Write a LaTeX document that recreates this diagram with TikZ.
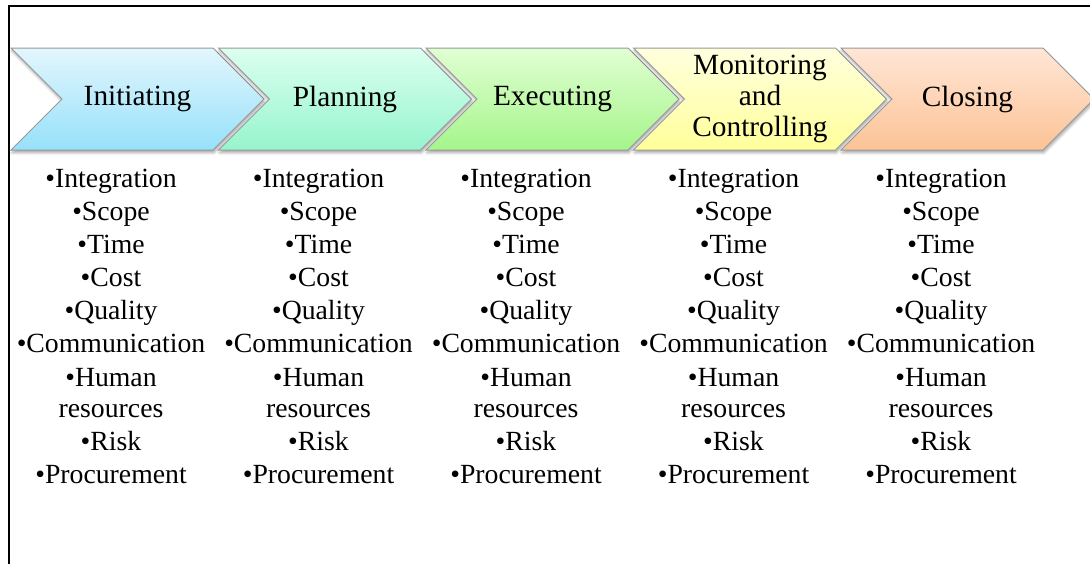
\documentclass[tikz,border=0pt]{standalone}
\usepackage{fontspec}
\setmainfont{Liberation Serif}
\usepackage{tikz}
\usetikzlibrary{shapes.symbols, shadows.blur, positioning}
\definecolor{initTop}{RGB}{227, 246, 253}
\definecolor{initBot}{RGB}{150, 225, 250}
\definecolor{planTop}{RGB}{220, 255, 240}
\definecolor{planBot}{RGB}{150, 245, 205}
\definecolor{execTop}{RGB}{225, 255, 210}
\definecolor{execBot}{RGB}{165, 245, 140}
\definecolor{moniTop}{RGB}{255, 255, 222}
\definecolor{moniBot}{RGB}{255, 255, 155}
\definecolor{closTop}{RGB}{255, 230, 214}
\definecolor{closBot}{RGB}{252, 195, 150}
\tikzset{
    phase/.style={signal, signal to=east, signal from=west, signal pointer angle=90, minimum width=189.75pt, minimum height=76.5pt, inner sep=0pt, align=center, draw=black!40, line width=0.75pt, font=\fontsize{22}{23}\selectfont, blur shadow={shadow xshift=0.6pt, shadow yshift=-2pt, shadow blur radius=2pt, shadow opacity=35}},
    tasklist/.style={anchor=north, align=center, inner sep=0pt, font=\fontsize{20.8}{24.8}\selectfont},
    frameline/.style={line width=1.5pt, black}
}
\newcommand\tasklines{\textbullet Integration\\ \textbullet Scope\\ \textbullet Time\\ \textbullet Cost\\ \textbullet Quality\\ \textbullet Communication\\ \textbullet Human\\[-1.5pt] resources\\ \textbullet Risk\\ \textbullet Procurement}

\begin{document}
\begin{tikzpicture}[x=0.75pt, y=-0.75pt]
    \useasboundingbox (0,0) rectangle (1090,564);

    % outer frame (only top and left edges are in view)
    \coordinate (frameBL) at (9,570);
    \coordinate (frameTL) at (9,6);
    \coordinate (frameTR) at (1095,6);
    \draw[frameline] (frameBL) -- (frameTL) -- (frameTR);

    % chevrons and their knowledge areas
    \foreach \n/\lbl [count=\i from 0] in {init/Initiating, plan/Planning, exec/Executing, moni/{Monitoring\\and\\Controlling}, clos/Closing} {
        \node[phase, top color=\n Top, bottom color=\n Bot] (\n) at ({137.5+207.5*\i}, 99) {\lbl};
        \node[tasklist] (\n list) at ({111+207.5*\i}, 169) {\tasklines};
    }
\end{tikzpicture}
\end{document}
